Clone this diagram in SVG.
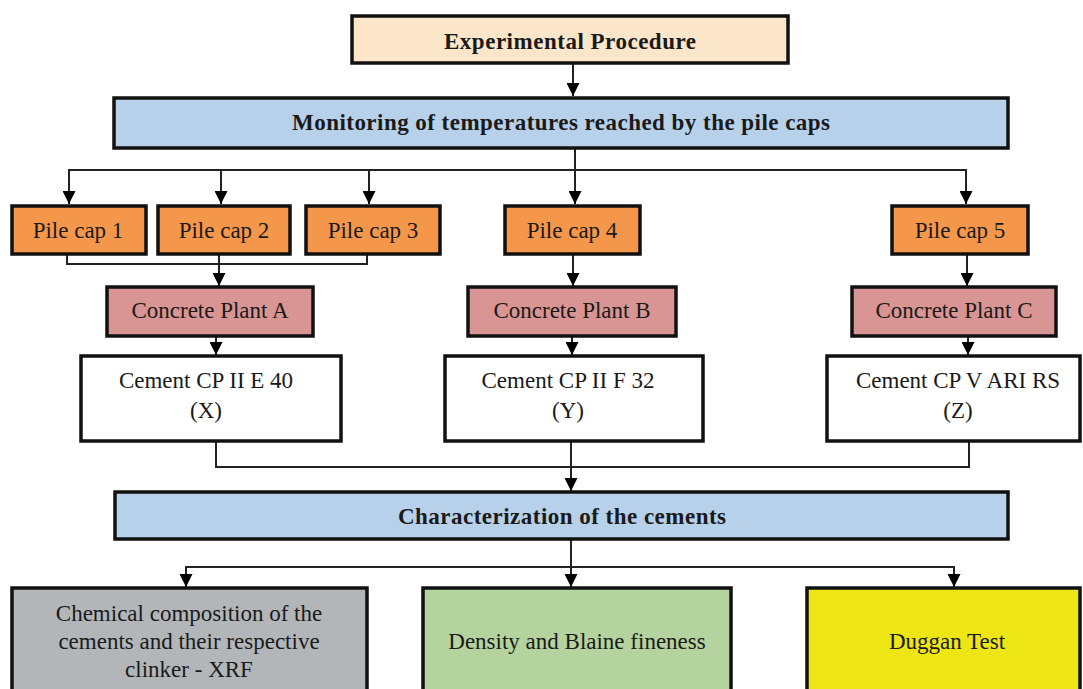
<svg xmlns="http://www.w3.org/2000/svg" width="1083" height="689" viewBox="0 0 1083 689">
<style>
.box{stroke:#111;stroke-width:3.5}
.c{fill:none;stroke:#222;stroke-width:2}
.t{font-family:"Liberation Serif","DejaVu Serif",serif;font-size:23px;fill:#1a1a1a;text-anchor:middle}
.b{font-weight:bold;font-size:23px}
</style>
<defs>
<marker id="ar" viewBox="0 0 10 10" refX="10" refY="5" markerWidth="13" markerHeight="13" markerUnits="userSpaceOnUse" orient="auto">
<path d="M0,0 L10,5 L0,10 z" fill="#000"/>
</marker>
</defs>
<rect width="1083" height="689" fill="#fff"/>
<g id="connectors">
<path class="c" d="M573,63 V96" marker-end="url(#ar)"/>
<path class="c" d="M575,148 V204" marker-end="url(#ar)"/>
<path class="c" d="M575,170 H69 V204" marker-end="url(#ar)"/>
<path class="c" d="M221,170 V204" marker-end="url(#ar)"/>
<path class="c" d="M369,170 V204" marker-end="url(#ar)"/>
<path class="c" d="M575,170 H966 V204" marker-end="url(#ar)"/>
<path class="c" d="M67,254 V264 H367 V254"/>
<path class="c" d="M219,254 V286" marker-end="url(#ar)"/>
<path class="c" d="M573,254 V286" marker-end="url(#ar)"/>
<path class="c" d="M967,254 V286" marker-end="url(#ar)"/>
<path class="c" d="M216,336 V355" marker-end="url(#ar)"/>
<path class="c" d="M572,336 V355" marker-end="url(#ar)"/>
<path class="c" d="M968,336 V355" marker-end="url(#ar)"/>
<path class="c" d="M216,441 V467 H969 V441"/>
<path class="c" d="M571,441 V491" marker-end="url(#ar)"/>
<path class="c" d="M571,539 V587" marker-end="url(#ar)"/>
<path class="c" d="M571,567 H186 V587" marker-end="url(#ar)"/>
<path class="c" d="M571,567 H954 V587" marker-end="url(#ar)"/>
</g>
<g id="exp"><rect class="box" x="352" y="16" width="436" height="47" fill="#fbe6c9"/><text class="t b" x="570" y="49" textLength="252">Experimental Procedure</text></g>
<g id="monitoring"><rect class="box" x="114" y="98" width="894" height="50" fill="#b8d1ea"/><text class="t b" x="561" y="130" textLength="538">Monitoring of temperatures reached by the pile caps</text></g>
<g id="pc1"><rect class="box" x="12" y="206" width="134" height="48" fill="#f5974a"/><text class="t" x="78" y="238">Pile cap 1</text></g>
<g id="pc2"><rect class="box" x="158" y="206" width="132" height="48" fill="#f5974a"/><text class="t" x="224" y="238">Pile cap 2</text></g>
<g id="pc3"><rect class="box" x="306" y="206" width="134" height="48" fill="#f5974a"/><text class="t" x="373" y="238">Pile cap 3</text></g>
<g id="pc4"><rect class="box" x="505" y="206" width="135" height="48" fill="#f5974a"/><text class="t" x="572" y="238">Pile cap 4</text></g>
<g id="pc5"><rect class="box" x="892" y="206" width="136" height="48" fill="#f5974a"/><text class="t" x="960" y="238">Pile cap 5</text></g>
<g id="plantA"><rect class="box" x="107" y="287" width="206" height="49" fill="#d99594"/><text class="t" x="210" y="318">Concrete Plant A</text></g>
<g id="plantB"><rect class="box" x="468" y="287" width="208" height="49" fill="#d99594"/><text class="t" x="572" y="318">Concrete Plant B</text></g>
<g id="plantC"><rect class="box" x="852" y="287" width="204" height="49" fill="#d99594"/><text class="t" x="954" y="318">Concrete Plant C</text></g>
<g id="cementX"><rect class="box" x="81" y="356" width="260" height="85" fill="#fff"/><text class="t" x="206" y="388">Cement CP II E 40</text><text class="t" x="206" y="418">(X)</text></g>
<g id="cementY"><rect class="box" x="445" y="356" width="258" height="85" fill="#fff"/><text class="t" x="568" y="388">Cement CP II F 32</text><text class="t" x="568" y="418">(Y)</text></g>
<g id="cementZ"><rect class="box" x="827" y="356" width="253" height="85" fill="#fff"/><text class="t" x="958" y="388">Cement CP V ARI RS</text><text class="t" x="958" y="418">(Z)</text></g>
<g id="char"><rect class="box" x="115" y="492" width="893" height="47" fill="#b8d1ea"/><text class="t b" x="562" y="524" textLength="328">Characterization of the cements</text></g>
<g id="chem"><rect class="box" x="12" y="588" width="355" height="110" fill="#b2b6b9"/><text class="t" x="189" y="621">Chemical composition of the</text><text class="t" x="189" y="649">cements and their respective</text><text class="t" x="189" y="677">clinker - XRF</text></g>
<g id="density"><rect class="box" x="423" y="588" width="308" height="110" fill="#b5d39e"/><text class="t" x="577" y="649">Density and Blaine fineness</text></g>
<g id="duggan"><rect class="box" x="807" y="588" width="273" height="110" fill="#ede614"/><text class="t" x="947" y="649">Duggan Test</text></g>
</svg>
